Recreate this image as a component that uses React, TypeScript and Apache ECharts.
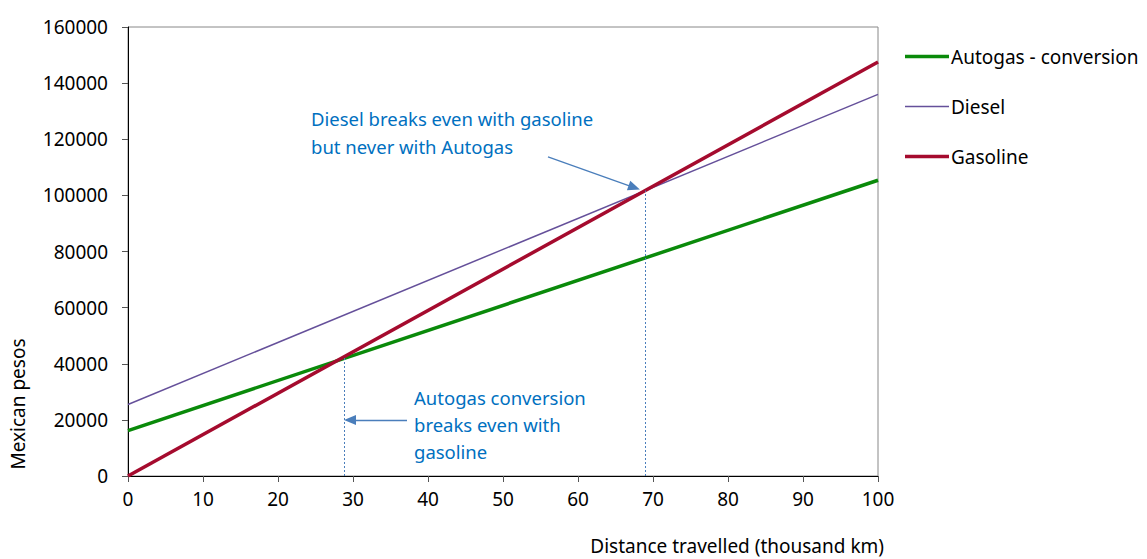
import React, { useEffect, useRef } from "react";
import * as echarts from "echarts";

const distances = [0, 100];
const autogas = [16200, 105400];
const diesel = [25500, 136000];
const gasoline = [0, 147500];
const seriesNames = ["Autogas - conversion", "Diesel", "Gasoline"];
const breakEvenX = [28.8, 68.9];
const breakEvenY = [42400, 101700];
const xTicks = { min: 0, max: 100, interval: 10 };
const yTicks = { min: 0, max: 160000, interval: 20000 };

const FAM = "'Noto Sans', sans-serif";
const BLUE_TEXT = "#0070C0";
const ARROW = "#4A7EBB";
const COLORS = ["#0A8A0A", "#65509A", "#A50B2E"];
const WIDTHS = [3.5, 1.5, 3.5];

export default function App() {
  const ref = useRef<HTMLDivElement>(null);
  useEffect(() => {
    if (!ref.current) return;
    const chart = echarts.init(ref.current, undefined, { renderer: "svg" });
    const pts = (ys: number[]) => distances.map((d, i) => [d, ys[i]]);
    const values = [autogas, diesel, gasoline];
    chart.setOption({
      animation: false,
      backgroundColor: "#fff",
      textStyle: { fontFamily: FAM },
      grid: {
        left: 128,
        right: 269,
        top: 27,
        bottom: 83,
        show: true,
        borderColor: "#888",
        borderWidth: 1,
        containLabel: false,
      },
      legend: {
        data: seriesNames.map((n, i) => ({
          name: n,
          icon: `path://M0,0 H44 V${WIDTHS[i]} H0 Z`,
          itemStyle: { color: COLORS[i] },
        })),
        orient: "vertical",
        left: 900,
        top: 42,
        itemWidth: 44,
        itemHeight: 14,
        itemGap: 31,
        symbolKeepAspect: true,
        textStyle: { fontSize: 19, color: "#000", fontFamily: FAM, padding: [0, 0, 0, -3] },
      },
      xAxis: {
        type: "value",
        ...xTicks,
        axisLine: { show: true, onZero: false, lineStyle: { color: "#000", width: 1 } },
        axisTick: { show: true, length: 6, lineStyle: { color: "#555" } },
        axisLabel: { color: "#000", fontSize: 19, margin: 13, fontFamily: FAM },
        splitLine: { show: false },
      },
      yAxis: {
        type: "value",
        ...yTicks,
        axisLine: { show: true, lineStyle: { color: "#000", width: 1 } },
        axisTick: { show: true, length: 6, lineStyle: { color: "#555" } },
        axisLabel: {
          color: "#000",
          fontSize: 19,
          margin: 20,
          fontFamily: FAM,
          formatter: (v: number) => String(v),
        },
        splitLine: { show: false },
      },
      graphic: [
        {
          type: "text",
          x: 884,
          y: 546,
          style: {
            text: "Distance travelled (thousand km)",
            font: `19px ${FAM}`,
            fill: "#000",
            align: "right",
            verticalAlign: "middle",
          },
        },
        {
          type: "text",
          x: 18,
          y: 404,
          rotation: Math.PI / 2,
          style: {
            text: "Mexican pesos",
            font: `19px ${FAM}`,
            fill: "#000",
            align: "center",
            verticalAlign: "middle",
          },
        },
        {
          type: "text",
          x: 311,
          y: 104,
          style: {
            text: "Diesel breaks even with gasoline\nbut never with Autogas",
            font: `18.5px ${FAM}`,
            fill: BLUE_TEXT,
            lineHeight: 28,
          },
        },
        {
          type: "text",
          x: 414,
          y: 384,
          style: {
            text: "Autogas conversion\nbreaks even with\ngasoline",
            font: `18.5px ${FAM}`,
            fill: BLUE_TEXT,
            lineHeight: 27,
          },
        },
      ],
      series: [
        ...seriesNames.map((n, i) => ({
          name: n,
          type: "line",
          data: pts(values[i]),
          symbol: "none",
          lineStyle: { color: COLORS[i], width: WIDTHS[i] },
          itemStyle: { color: COLORS[i] },
          z: i === 2 ? 4 : 3,
        })),
        {
          name: "breakeven",
          type: "line",
          data: [],
          z: 2,
          markLine: {
            silent: true,
            symbol: ["none", "none"],
            label: { show: false },
            lineStyle: { color: ARROW, width: 1, type: [2, 2] },
            data: breakEvenX.map((x, i) => [
              { coord: [x, 0] },
              { coord: [x, breakEvenY[i]] },
            ]),
          },
        },
        {
          name: "arrows",
          type: "line",
          data: [],
          z: 5,
          markLine: {
            silent: true,
            symbol: ["none", "triangle"],
            symbolSize: [10, 12],
            label: { show: false },
            lineStyle: { color: ARROW, width: 1.3, type: "solid" },
            data: [
              [{ coord: [56, 113700] }, { coord: [67.5, 102800] }],
              [{ coord: [37.2, 20000] }, { coord: [29.6, 20000] }],
            ],
          },
        },
      ],
    });
    return () => chart.dispose();
  }, []);
  return (
    <div
      ref={ref}
      style={{ position: "fixed", left: 0, top: 0, width: 1147, height: 559 }}
    />
  );
}
